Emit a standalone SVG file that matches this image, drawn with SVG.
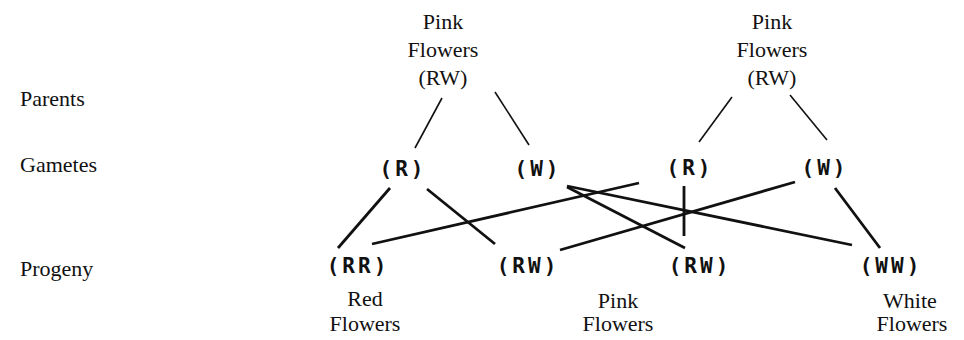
<svg xmlns="http://www.w3.org/2000/svg" width="964" height="340" viewBox="0 0 964 340">
<style>
.lbl{font-family:"Liberation Serif","Times New Roman",serif;font-size:22px;fill:#111}
.mid{text-anchor:middle}
.gen{font-family:"DejaVu Sans Mono",monospace;font-weight:bold;font-size:21px;fill:#111;text-anchor:middle;letter-spacing:3px}
.thin{stroke:#111;stroke-width:1.6;fill:none}
.thick{stroke:#111;stroke-width:2.8;fill:none}
</style>
<rect width="964" height="340" fill="#fff"/>
<g id="row-labels">
<text class="lbl" x="20" y="106">Parents</text>
<text class="lbl" x="20" y="172">Gametes</text>
<text class="lbl" x="20" y="276">Progeny</text>
</g>
<g id="parent1">
<text class="lbl mid" x="443" y="29">Pink</text>
<text class="lbl mid" x="443" y="57">Flowers</text>
<text class="lbl mid" x="443" y="85">(RW)</text>
</g>
<g id="parent2">
<text class="lbl mid" x="772" y="29">Pink</text>
<text class="lbl mid" x="772" y="57">Flowers</text>
<text class="lbl mid" x="772" y="85">(RW)</text>
</g>
<g id="gamete-R1"><text class="gen" x="403" y="176">(R)</text></g>
<g id="gamete-W1"><text class="gen" x="538" y="176">(W)</text></g>
<g id="gamete-R2"><text class="gen" x="690" y="175">(R)</text></g>
<g id="gamete-W2"><text class="gen" x="825" y="175">(W)</text></g>
<g id="progeny-RR"><text class="gen" x="358" y="273">(RR)</text>
<text class="lbl mid" x="365" y="306">Red</text>
<text class="lbl mid" x="365" y="331">Flowers</text></g>
<g id="progeny-RW1"><text class="gen" x="528" y="273">(RW)</text></g>
<g id="progeny-RW2"><text class="gen" x="700" y="273">(RW)</text>
<text class="lbl mid" x="618" y="308">Pink</text>
<text class="lbl mid" x="618" y="331">Flowers</text></g>
<g id="progeny-WW"><text class="gen" x="891" y="273">(WW)</text>
<text class="lbl mid" x="910" y="308">White</text>
<text class="lbl mid" x="912" y="331">Flowers</text></g>
<g id="connectors">
<line class="thin" x1="442" y1="98" x2="415" y2="148"/>
<line class="thin" x1="495" y1="92" x2="529" y2="145"/>
<line class="thin" x1="732" y1="97" x2="699" y2="142"/>
<line class="thin" x1="790" y1="95" x2="827" y2="140"/>
<line class="thick" x1="390" y1="188" x2="338" y2="248"/>
<line class="thick" x1="427" y1="189" x2="495" y2="244"/>
<line class="thick" x1="639" y1="183" x2="372" y2="244"/>
<line class="thick" x1="567" y1="187" x2="685" y2="248"/>
<line class="thick" x1="567" y1="186" x2="852" y2="245"/>
<line class="thick" x1="684" y1="186" x2="684" y2="236"/>
<line class="thick" x1="795" y1="182" x2="560" y2="250"/>
<line class="thick" x1="835" y1="188" x2="880" y2="248"/>
</g>
</svg>
